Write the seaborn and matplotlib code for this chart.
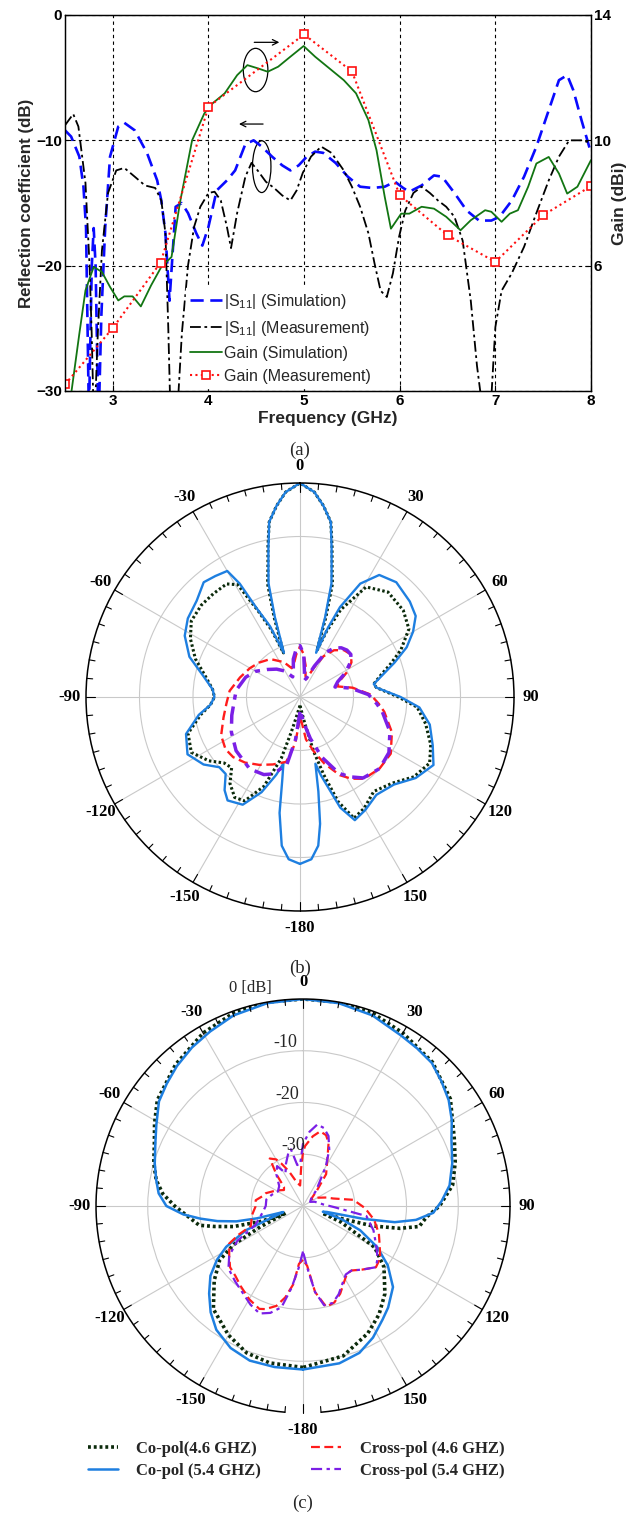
import numpy as np
import matplotlib
matplotlib.use("Agg")
import matplotlib.pyplot as plt
from matplotlib.patches import Ellipse
import seaborn as sns

# ---------------- (a) reflection coefficient and gain vs frequency ----------------
s11_sim_f = [2.5, 2.564, 2.65, 2.693, 2.72, 2.75, 2.78, 2.80, 2.82, 2.85,
             2.88, 2.92, 2.971, 3.057, 3.12, 3.229, 3.357, 3.464, 3.507, 3.55,
             3.593, 3.657, 3.72, 3.786, 3.872, 3.936, 4.0, 4.086, 4.193, 4.279,
             4.386, 4.472, 4.557, 4.665, 4.772, 4.857, 4.943, 5.029, 5.115, 5.2,
             5.329, 5.457, 5.586, 5.715, 5.843, 5.95, 6.036, 6.1, 6.229, 6.358,
             6.443, 6.572, 6.7, 6.829, 6.958, 7.044, 7.172, 7.3, 7.429, 7.558,
             7.665, 7.751, 7.815, 7.901, 8.0]
s11_sim_db = [-9.2, -9.7, -11.3, -13.7, -17.0, -32.0, -20.0, -17.0, -20.0, -33.0,
              -24.0, -17.0, -11.3, -8.9, -8.6, -9.2, -11.0, -13.2, -14.8, -17.4,
              -22.8, -15.3, -15.0, -15.8, -17.4, -18.4, -16.9, -14.0, -13.2, -12.4,
              -10.3, -10.0, -10.5, -11.3, -12.0, -12.4, -12.0, -11.3, -10.9, -11.0,
              -11.8, -12.9, -13.7, -13.8, -13.7, -13.3, -13.8, -14.1, -13.6, -12.8,
              -12.9, -14.2, -15.6, -16.4, -16.4, -16.1, -14.8, -12.9, -10.5, -7.6,
              -5.2, -4.8, -6.0, -8.4, -11.0]

s11_meas_f = [2.5, 2.586, 2.64, 2.714, 2.757, 2.779, 2.80, 2.821, 2.843, 2.886,
              2.95, 3.036, 3.12, 3.229, 3.336, 3.443, 3.507, 3.55, 3.58, 3.60,
              3.64, 3.68, 3.722, 3.786, 3.85, 3.915, 4.0, 4.064, 4.129, 4.193,
              4.236, 4.30, 4.386, 4.45, 4.514, 4.6, 4.686, 4.772, 4.857, 4.922,
              4.986, 5.072, 5.179, 5.286, 5.415, 5.5, 5.586, 5.672, 5.736, 5.8,
              5.865, 5.929, 5.993, 6.058, 6.143, 6.229, 6.315, 6.4, 6.486, 6.572,
              6.658, 6.743, 6.808, 6.85, 6.9, 6.958, 7.0, 7.065, 7.172, 7.3,
              7.429, 7.558, 7.665, 7.772, 7.9, 8.0]
s11_meas_db = [-8.8, -7.9, -8.9, -13.4, -20.0, -25.4, -32.0, -30.0, -25.4, -18.8,
               -14.2, -12.4, -12.2, -12.9, -13.6, -13.8, -14.8, -17.4, -25.0, -31.0,
               -34.0, -31.0, -25.4, -20.0, -16.9, -15.3, -14.2, -14.1, -14.8, -16.9,
               -18.6, -15.8, -12.9, -11.8, -12.4, -13.3, -13.8, -14.4, -14.8, -14.0,
               -12.6, -11.3, -10.5, -11.0, -12.4, -13.7, -15.3, -17.4, -19.8, -22.0,
               -22.5, -20.6, -17.7, -15.6, -14.2, -13.7, -14.2, -14.8, -15.3, -16.1,
               -18.0, -22.8, -28.0, -30.5, -33.0, -30.5, -24.9, -22.0, -20.6, -18.5,
               -15.8, -13.2, -11.3, -10.0, -10.0, -10.2]

gain_sim_f = [2.564, 2.65, 2.714, 2.80, 2.886, 2.971, 3.057, 3.12, 3.207, 3.293,
              3.40, 3.507, 3.614, 3.70, 3.829, 3.957, 4.043, 4.17, 4.30, 4.407,
              4.514, 4.62, 4.729, 4.857, 4.995, 5.115, 5.243, 5.415, 5.543, 5.672,
              5.757, 5.843, 5.908, 6.015, 6.10, 6.229, 6.358, 6.486, 6.636, 6.743,
              6.893, 6.958, 7.065, 7.151, 7.236, 7.343, 7.429, 7.558, 7.665, 7.751,
              7.858, 8.0]
gain_sim_dbi = [1.9, 3.83, 5.21, 5.96, 5.80, 5.32, 4.89, 5.02, 5.02, 4.70,
                5.37, 5.96, 6.28, 7.98, 10.0, 10.86, 11.18, 11.5, 12.08, 12.40,
                12.30, 12.19, 12.35, 12.67, 13.01, 12.67, 12.35, 11.92, 11.5, 10.65,
                9.69, 8.2, 7.18, 7.66, 7.66, 7.88, 7.82, 7.56, 7.13, 7.45,
                7.77, 7.72, 7.40, 7.66, 7.77, 8.52, 9.26, 9.47, 8.94, 8.3,
                8.52, 9.37]

gain_meas_f = [2.5, 3.0, 3.5, 4.0, 5.0, 5.5, 6.0, 6.5, 7.0, 7.5, 8.0]
gain_meas_dbi = [2.21, 4.01, 6.1, 11.07, 13.38, 12.2, 8.25, 6.97, 6.12, 7.61, 8.54]

freq_ticks = [3, 4, 5, 6, 7, 8]
s11_ticks = [-30, -20, -10, 0]
gain_ticks = [6, 10, 14]
legend_a = [r"|S$_{11}$| (Simulation)", r"|S$_{11}$| (Measurement)",
            "Gain (Simulation)", "Gain (Measurement)"]

# ---------------- (b) radiation pattern, dB ----------------
b_co54_ang = [-180, -176, -173, -170, -168, -166, -163, -158, -152, -145,
              -141, -136, -131, -125, -117, -108, -100, -95, -90, -85,
              -78, -70, -62, -55, -47, -40, -35, -30, -28, -26,
              -23, -20, -17.5, -15.5, -14, -12, -10, -7, -4, 0,
              4, 7, 10, 12, 14, 15.5, 17.5, 20, 22, 24,
              28, 33, 40, 49, 55, 60, 65, 70, 75, 80,
              83, 90, 95, 102, 110, 117, 125, 133, 142, 150,
              156, 160, 165, 167, 169, 171, 173, 176, 180]
b_co54_db = [-8.8, -9.6, -12, -18, -24, -27.2, -24.8, -20.8, -17.2, -16.4,
             -17.6, -20, -20, -18, -16.4, -17.6, -20.8, -23.2, -24, -23.6,
             -21.6, -18, -15.6, -14.4, -13.6, -12, -12.4, -12.8, -16, -21.6,
             -25.6, -31.2, -24.4, -18, -15.6, -11.6, -6.8, -4, -1.6, 0,
             -1.6, -4, -6.8, -11.6, -15.6, -18, -24.4, -31.2, -26, -21.6,
             -16, -12.8, -12, -12.8, -13.6, -15.6, -18, -21.2, -24, -26,
             -25.6, -21.2, -17.6, -15.2, -13.6, -12, -13.6, -16, -16.8, -15.6,
             -14.8, -18, -24.8, -27.2, -22, -16, -12, -9.6, -8.8]

b_co46_ang = [-180, -174, -168, -166, -163, -158, -152, -147, -141, -136,
              -131, -125, -117, -108, -100, -95, -90, -85, -78, -70,
              -62, -55, -47, -40, -33, -29, -26, -23, -20.5, -18,
              -16, -14, -12, -10, -7, -4, 0, 4, 7, 10,
              12, 14, 16, 18, 20, 22, 25, 31, 40, 50,
              58, 65, 70, 75, 80, 83, 90, 95, 102, 110,
              117, 125, 133, 142, 150, 156, 160, 163, 166, 170,
              175, 180]
b_co46_db = [-38.4, -37.6, -35.2, -33.2, -28, -22, -18, -17.6, -19.2, -21.6,
             -21.2, -19.2, -17.2, -18, -21.2, -23.2, -24, -23.6, -22, -19.2,
             -16.8, -15.2, -14.8, -14.8, -14.8, -16, -22, -26.4, -31.2, -24.4,
             -18, -15.2, -11.2, -6.8, -4, -1.6, 0, -1.6, -4, -6.8,
             -11.2, -15.2, -18, -24.4, -30.8, -26.8, -22, -16, -14.4, -14.8,
             -16, -19.2, -22, -24.4, -26, -25.6, -21.6, -18, -16, -14,
             -12.8, -14, -16.4, -17.6, -16, -15.2, -19.2, -24.8, -29.6, -35.2,
             -37.6, -38.4]

b_cr46_ang = [-180, -174, -168, -158, -149, -140, -132, -125, -116, -105,
              -95, -85, -72, -60, -50, -38, -25, -16, -10, -5,
              0, 5, 10, 15, 20, 25, 30, 36, 43, 50,
              56, 62, 68, 74, 80, 88, 95, 100, 111, 122,
              132, 142, 148, 153, 160, 166, 172, 176, 180]
b_cr46_db = [-36, -31.2, -27.6, -26.4, -25.2, -24, -23.2, -23, -23.6, -25.2,
             -26.2, -26.8, -28.2, -29.2, -30, -31, -32.8, -34.4, -33.6, -32,
             -30.6, -32, -34, -36, -36.4, -34.1, -31.2, -29.2, -28, -27.6,
             -28.4, -30, -32, -32.8, -30, -26.8, -25.2, -24, -21.6, -20,
             -20, -20.6, -22, -23.6, -26.8, -29.6, -32, -35.2, -36]

b_cr54_ang = [-180, -174, -169, -161, -155, -145, -130, -117, -105, -95,
              -84, -70, -60, -50, -40, -30, -20, -15, -10, -5,
              0, 5, 10, 15, 20, 25, 30, 35, 40, 45,
              50, 55, 62, 68, 74, 80, 88, 95, 100, 111,
              122, 132, 142, 148, 153, 160, 166, 172, 176, 180]
b_cr54_db = [-37.2, -32, -27.2, -24.8, -24, -23.6, -24.4, -25.6, -26.8, -27.6,
             -28, -29.2, -30.4, -32, -33.2, -34.4, -36, -35.2, -32.8, -31.2,
             -30.4, -32, -35.2, -36.8, -36, -33.6, -30.4, -28.8, -28, -27.6,
             -27.6, -28.4, -30.4, -32.4, -33.2, -30.4, -27.2, -25.6, -24.4, -22,
             -20.4, -20, -20.8, -22.4, -24, -28, -32, -35.2, -36.8, -37.2]

# ---------------- (c) radiation pattern, dB ----------------
c_co54_ang = [-180, -170, -161, -153, -145, -139, -133, -127, -122, -118,
              -113, -110, -107, -105, -103, -100, -97, -94, -90, -85,
              -80, -74, -67, -61, -54, -48, -42, -35, -28, -20,
              -10, 0, 10, 20, 30, 36, 42, 48, 54, 60,
              66, 74, 82, 88, 93, 97, 100, 102, 104, 106,
              109, 113, 119, 125, 132, 140, 145, 152, 159, 167,
              180]
c_co54_db = [-8.4, -8.4, -8.4, -9.2, -10.8, -12.8, -15.2, -17.6, -20.4, -23.2,
             -28, -34, -36, -30.8, -26.8, -23.2, -20, -16.8, -13.6, -12,
             -11.2, -10.2, -9, -7.6, -5.6, -4.6, -3.6, -2.6, -1.8, -0.8,
             -0.2, 0, -0.2, -0.8, -2, -2.4, -2.8, -4, -5.2, -6.8,
             -8.6, -10, -11.4, -13.2, -14.8, -18, -22, -28, -35.2, -36,
             -32, -28, -23.6, -20, -16.6, -14.4, -13.2, -11.2, -9.6, -8.8,
             -8.4]

c_co46_ang = [-180, -168, -159, -150, -139, -130, -123, -119, -116, -114,
              -112, -111, -110, -106.5, -103, -100.5, -95, -90, -85, -80,
              -74, -67, -61, -54, -42, -30, -20, -10, 0, 10,
              20, 30, 42, 54, 66, 74, 82, 90, 95, 100,
              103, 106, 108, 110, 113, 120, 127, 137, 145, 153,
              165, 180]
c_co46_db = [-8.8, -9, -9.6, -11.2, -13.6, -17.6, -20.8, -24.8, -30.8, -35.2,
             -36.4, -33.6, -31.2, -26, -22.4, -19.6, -17.6, -15.2, -12.8, -11.2,
             -10, -8.8, -7.2, -5.2, -3.2, -1.4, -0.4, 0, 0, 0,
             -0.4, -1.4, -2.6, -4.8, -8, -9.4, -10.8, -13.6, -16, -17.2,
             -20.8, -26, -32, -36, -32, -24, -20.4, -16.8, -14.4, -12.4,
             -10, -8.8]

c_cr46_ang = [-180, -176, -173, -169, -165, -160, -157, -150, -142, -136,
              -130, -124, -117, -114, -111, -100, -91, -83, -76, -71,
              -60, -50, -45, -40, -35, -30, -27, -22, -15, -8,
              -3, 0, 2, 8, 13, 18, 22, 28, 36, 42,
              50, 60, 70, 76, 83, 92, 101, 110, 118, 124,
              130, 137, 143, 147, 152, 157, 162, 167, 172, 176,
              180]
c_cr46_db = [-29.6, -28.8, -24.8, -22, -20, -18.8, -18.4, -19.2, -20.4, -21.2,
             -21.6, -22.8, -24, -26.4, -29.2, -30, -30.8, -30.8, -32, -32.4,
             -34, -35.2, -34.8, -32, -28.8, -29.6, -30.8, -32.8, -35.2, -36,
             -32.8, -29.6, -28.4, -26.4, -25.2, -25.6, -26.8, -30, -32.4, -36,
             -38, -36.8, -35.2, -34, -30.2, -28, -26, -24.4, -23.2, -22,
             -21.6, -23.2, -24.4, -24.4, -23.2, -21.6, -20.4, -20, -23.2, -28.4,
             -29.6]

c_cr54_ang = [-180, -176, -172, -168, -163, -158, -152, -145, -138, -130,
              -124, -118, -112, -100, -90, -80, -70, -60, -50, -40,
              -33, -28, -22, -15, -12, -8, -4, 0, 5, 10,
              15, 20, 25, 30, 40, 50, 60, 70, 80, 86,
              92, 99, 109, 118, 125, 130, 137, 143, 148, 153,
              158, 163, 168, 172, 176, 180]
c_cr54_db = [-31.2, -28, -24, -20, -18.4, -17.6, -18.4, -19.6, -20.4, -21.2,
             -22.8, -25.6, -30, -32, -32.8, -32.8, -33.6, -34.4, -34, -32,
             -30.8, -32.8, -31.2, -29.2, -28.8, -32, -32, -28, -25.6, -24,
             -24.4, -25.6, -28, -31.2, -36, -38, -38.4, -37.6, -36.8, -36,
             -34, -27.6, -25.6, -24, -22.4, -21.6, -23.2, -24.4, -24.4, -23.2,
             -21.6, -20.4, -20.4, -23.2, -28, -31.2]

angle_ticks = [0, 30, 60, 90, 120, 150, 180, 210, 240, 270, 300, 330]
angle_labels = ["0", "30", "60", "90", "120", "150", "-180", "-150",
                "-120", "-90", "-60", "-30"]
ring_levels = [-30, -20, -10]
ring_labels = ["-30", "-20", "-10"]
legend_c = ["Co-pol(4.6 GHZ)", "Co-pol (5.4 GHZ)",
            "Cross-pol (4.6 GHZ)", "Cross-pol (5.4 GHZ)"]

# ---------------- styling ----------------
sns.set_style("white")
plt.rcParams["font.family"] = ["Liberation Sans", "DejaVu Sans"]
plt.rcParams["mathtext.fontset"] = "custom"
plt.rcParams["mathtext.rm"] = "Liberation Sans"
plt.rcParams["mathtext.it"] = "Liberation Sans"
SERIF = ["Liberation Serif", "DejaVu Serif"]

W, H = 640, 1518
fig = plt.figure(figsize=(W / 100, H / 100), dpi=100)
fig.patch.set_facecolor("white")


def fig_box(x0, y0, x1, y1):
    return [x0 / W, 1 - y1 / H, (x1 - x0) / W, (y1 - y0) / H]


# ---------------- panel (a) ----------------
ax = fig.add_axes(fig_box(65, 15, 591, 391))
ax2 = ax.twinx()

sns.lineplot(x=s11_sim_f, y=s11_sim_db, ax=ax, estimator=None, sort=False,
             color="#0a0aff", lw=1.9, linestyle=(0, (5, 2.5)))
sns.lineplot(x=s11_meas_f, y=s11_meas_db, ax=ax, estimator=None, sort=False,
             color="black", lw=1.3, linestyle=(0, (6, 2, 1.5, 2)))
sns.lineplot(x=gain_sim_f, y=gain_sim_dbi, ax=ax2, estimator=None, sort=False,
             color="#127512", lw=1.3)
sns.lineplot(x=gain_meas_f, y=gain_meas_dbi, ax=ax2, estimator=None, sort=False,
             color="#ff1010", lw=1.5, linestyle=(0, (1, 1.6)), marker="s",
             markersize=5.5, markerfacecolor="white", markeredgecolor="#ff1010",
             markeredgewidth=1.2)

ax.set_xlim(2.5, 8)
ax.set_ylim(-30, 0)
ax2.set_ylim(2, 14)
ax.set_xticks(freq_ticks)
ax.set_yticks(s11_ticks)
ax2.set_yticks(gain_ticks)
ax.set_xlabel("Frequency (GHz)", fontsize=12.5, fontweight="bold", labelpad=2)
ax.set_ylabel("Reflection coefficient (dB)", fontsize=12.2, fontweight="bold",
              labelpad=2)
ax2.set_ylabel("Gain (dBi)", fontsize=12.5, fontweight="bold", labelpad=1)
for a in (ax, ax2):
    a.tick_params(direction="in", length=4, width=0.8, labelsize=11, pad=2,
                  colors="black")
    for s in a.spines.values():
        s.set_color("black")
        s.set_linewidth(0.9)
    plt.setp(a.get_xticklabels() + a.get_yticklabels(), fontweight="bold")
ax.tick_params(left=True, bottom=True)
ax2.tick_params(right=True)
ax.grid(True, color="black", linestyle=(0, (3, 3)), linewidth=0.8)
ax2.grid(False)

ax.add_patch(Ellipse((4.493, -4.39), 0.257, 3.46, fill=False, ec="black", lw=0.9))
ax.add_patch(Ellipse((4.557, -12.1), 0.193, 4.13, fill=False, ec="black", lw=0.9))
ax.annotate("", xy=(4.77, -2.18), xytext=(4.45, -2.18),
            arrowprops=dict(arrowstyle="->", color="black", lw=0.9))
ax.annotate("", xy=(4.29, -8.7), xytext=(4.6, -8.7),
            arrowprops=dict(arrowstyle="->", color="black", lw=0.9))

handles_a = ax.get_lines()[:2] + ax2.get_lines()[:2]
leg = ax2.legend(handles_a, legend_a, loc="upper left",
                 bbox_to_anchor=(186 / W, 1 - 288 / H),
                 bbox_transform=fig.transFigure, fontsize=11.5,
                 handlelength=2.0, handletextpad=0.15, labelspacing=0.5,
                 borderpad=0.25, borderaxespad=0, frameon=True, fancybox=False)
leg.get_frame().set_facecolor("white")
leg.get_frame().set_edgecolor("white")
leg.get_frame().set_alpha(1)

fig.text(300 / W, 1 - 450 / H, "(a)", ha="center", va="center",
         fontsize=13.5, family=SERIF)


# ---------------- polar panels ----------------
def polar_frame(axp, gap=False):
    axp.set_theta_zero_location("N")
    axp.set_theta_direction(-1)
    axp.set_rlim(-40, 0)
    axp.set_thetagrids(angle_ticks, angle_labels, fontsize=12,
                       fontweight="bold", family=SERIF)
    axp.set_rgrids(ring_levels, labels=["", "", ""])
    axp.grid(True, color="#c9c9c9", lw=0.8)
    axp.tick_params(axis="x", length=0, pad=5, colors="black")
    axp.tick_params(axis="y", length=0)
    sp = axp.spines["polar"]
    if gap:
        sp.set_visible(False)
        th = np.deg2rad(np.arange(185, 535.01, 0.5))
        axp.plot(th, np.zeros_like(th), color="black", lw=1.1, clip_on=False,
                 zorder=5)
    else:
        sp.set_color("black")
        sp.set_linewidth(1.1)
    for d in range(0, 360, 5):
        ln = 1.7 if d % 30 == 0 else 1.1
        t = np.deg2rad(d)
        axp.plot([t, t], [0, -ln], color="black", lw=0.8, clip_on=False,
                 zorder=5)


def draw_pattern(axp, ang, db, color, lw, ls):
    sns.lineplot(x=np.deg2rad(ang), y=db, ax=axp, estimator=None, sort=False,
                 color=color, lw=lw, linestyle=ls)
    axp.set_xlabel("")
    axp.set_ylabel("")


DOTS = (0, (0.8, 0.8))
BLUE = "#1e7fe0"
RED = "#ff1c1c"
PURPLE = "#7b1fe6"
DARK = "#0b2a0b"

# (b)
axb = fig.add_axes(fig_box(86, 483, 514, 911), projection="polar")
polar_frame(axb)
draw_pattern(axb, b_co46_ang, b_co46_db, DARK, 2.2, DOTS)
draw_pattern(axb, b_co54_ang, b_co54_db, BLUE, 1.7, "-")
draw_pattern(axb, b_cr46_ang, b_cr46_db, RED, 1.7, (0, (4, 2)))
draw_pattern(axb, b_cr54_ang, b_cr54_db, PURPLE, 2.5, (0, (5, 2, 1.5, 2)))
axb.set_rlim(-40, 0)
fig.text(300 / W, 1 - 968 / H, "(b)", ha="center", va="center",
         fontsize=13.5, family=SERIF)

# (c)
axc = fig.add_axes(fig_box(96, 999, 510, 1413), projection="polar")
polar_frame(axc, gap=True)
draw_pattern(axc, c_co46_ang, c_co46_db, DARK, 2.6, DOTS)
draw_pattern(axc, c_co54_ang, c_co54_db, BLUE, 1.8, "-")
draw_pattern(axc, c_cr46_ang, c_cr46_db, RED, 1.6, (0, (4, 2)))
draw_pattern(axc, c_cr54_ang, c_cr54_db, PURPLE, 1.6, (0, (5, 2, 1.5, 2)))
axc.set_rlim(-40, 0)
for lev, lab, off in zip(ring_levels, ring_labels, [-8.9, -8.0, -6.3]):
    axc.text(np.deg2rad(off), lev + 1.8, lab, ha="center", va="center",
             fontsize=13, family=SERIF, zorder=6)
fig.text(250 / W, 1 - 988 / H, "0 [dB]", ha="center", va="center",
         fontsize=12, family=SERIF)

handles_c = axc.get_lines()[-4:]
leg_c = fig.legend(handles_c, legend_c, ncol=2, loc="center left",
                   bbox_to_anchor=(88 / W, 1 - 1460 / H),
                   prop={"family": SERIF, "weight": "bold", "size": 12},
                   frameon=False, handlelength=1.8, handletextpad=1.1,
                   columnspacing=3.0, labelspacing=0.35, borderpad=0,
                   borderaxespad=0)
fig.text(303 / W, 1 - 1503 / H, "(c)", ha="center", va="center",
         fontsize=13.5, family=SERIF)

fig.savefig("out.png", dpi=100, facecolor="white")
